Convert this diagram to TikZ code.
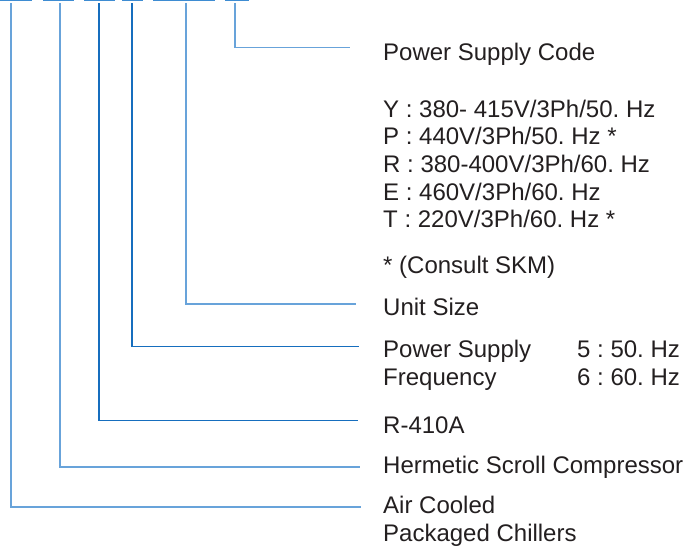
\documentclass[tikz,border=0pt]{standalone}
\usepackage{fontspec}
\setmainfont{Liberation Sans}
\usetikzlibrary{positioning}
\definecolor{slotblue}{RGB}{62,140,210}
\definecolor{leadlight}{RGB}{104,163,218}
\definecolor{leaddark}{RGB}{22,110,190}
\definecolor{textgray}{RGB}{35,31,32}

\tikzset{
  lbl/.style={anchor=base west,inner sep=0pt,text=textgray,
    font=\fontsize{24}{28}\selectfont\frenchspacing},
  lead/.style={leadlight,line width=1.3pt},
  leaddk/.style={leaddark,line width=1.3pt},
  slot/.style={slotblue,line width=2.6pt},
}

\begin{document}
\begin{tikzpicture}[x=1pt,y=-1pt]
\useasboundingbox (0,0) rectangle (686,547);
% code slots along the top edge
\foreach \a/\b in {0/32,43/74,84/115,122/143,153/215,225/249}
  \draw[slot] (\a,0) -- (\b,0);
% stems below the slots and where their leads end
\coordinate (s1) at (11,3);
\coordinate (s2) at (60,3);
\coordinate (s3) at (99,3);
\coordinate (s4) at (132,3);
\coordinate (s5) at (186,3);
\coordinate (s6) at (235,3);
\coordinate (e1) at (361,507);
\coordinate (e2) at (360,467);
\coordinate (e3) at (358,420.5);
\coordinate (e4) at (359,346.5);
\coordinate (e5) at (356,304);
\coordinate (e6) at (350,47.5);
\draw[lead] (s6) |- (e6);
\draw[lead] (s5) |- (e5);
\draw[leaddk] (s4) |- (e4);
\draw[leaddk] (s3) |- (e3);
\draw[lead] (s2) |- (e2);
\draw[lead] (s1) |- (e1);
% labels
\node[lbl] (psc) at (383,60) {Power Supply Code};
\foreach \txt [count=\i] in {Y : 380- 415V/3Ph/50. Hz,P : 440V/3Ph/50. Hz *,
    R : 380-400V/3Ph/60. Hz,E : 460V/3Ph/60. Hz,T : 220V/3Ph/60. Hz *}
  \node[lbl] (v\i) at (383,{117+27.7*(\i-1)}) {\txt};
\node[lbl] (skm) at (383,273) {* (Consult SKM)};
\node[lbl] (size) at (383,315) {Unit Size};
\node[lbl] (ps) at (383,357) {Power Supply};
\node[lbl] (freq) at (383,385) {Frequency};
\node[lbl] (f50) at (577,357) {5 : 50. Hz};
\node[lbl] (f60) at (577,385) {6 : 60. Hz};
\node[lbl] (ref) at (383,433) {R-410A};
\node[lbl] (comp) at (383,473) {Hermetic Scroll Compressor};
\node[lbl] (air) at (383,513) {Air Cooled};
\node[lbl] (pack) at (383,541) {Packaged Chillers};
\end{tikzpicture}
\end{document}
